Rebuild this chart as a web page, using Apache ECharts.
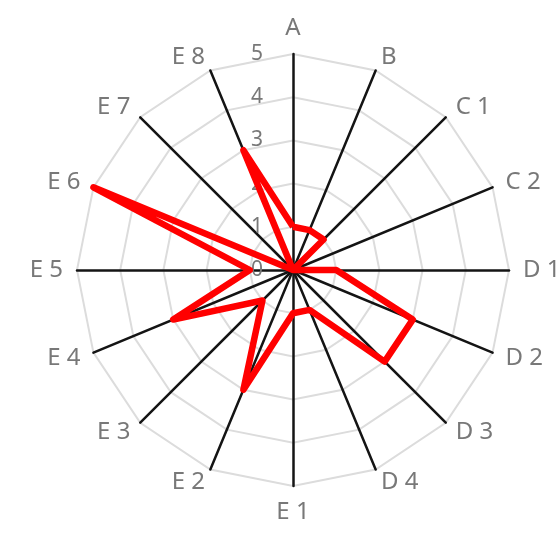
<!DOCTYPE html>
<html>
<head>
<meta charset="utf-8">
<script src="https://cdn.jsdelivr.net/npm/echarts@6/dist/echarts.min.js"></script>
<style>
html,body{margin:0;padding:0;background:#fff;}
#chart{width:560px;height:535px;}
</style>
</head>
<body>
<div id="chart"></div>
<script>
// indicators in clockwise order starting from the top
const names=['A','B','C 1','C 2','D 1','D 2','D 3','D 4','E 1','E 2','E 3','E 4','E 5','E 6','E 7','E 8'];
const values=[1,1,1,0,1,3,3,1,1,3,1,3,1,5,0,3];
const maxValue=5;

// echarts radar runs counter-clockwise, so keep the first one and flip the rest
const order=[0].concat(names.map((n,i)=>i).slice(1).reverse());

const indicator=order.map((i,k)=>{
    const item={name:names[i],max:maxValue,min:0};
    if(k===0){
        item.axisLabel={show:true};
    }
    return item;
});

const chart=echarts.init(document.getElementById('chart'));
chart.setOption({
    backgroundColor:'#ffffff',
    animation:false,
    radar:{
        center:[293,270],
        radius:216,
        shape:'polygon',
        splitNumber:5,
        indicator:indicator,
        axisName:{
            color:'#787878',
            fontSize:24,
            fontFamily:'Noto Sans'
        },
        nameGap:14,
        axisLine:{lineStyle:{color:'#141414',width:2.5}},
        splitLine:{lineStyle:{color:'#dcdcdc',width:2}},
        splitArea:{show:false},
        axisTick:{show:false},
        axisLabel:{
            show:false,
            color:'#787878',
            fontSize:21,
            fontFamily:'Noto Sans',
            margin:30
        }
    },
    series:[{
        type:'radar',
        symbol:'none',
        lineStyle:{color:'#ff0000',width:6.5},
        data:[{value:order.map(i=>values[i])}]
    }]
});
</script>
</body>
</html>
